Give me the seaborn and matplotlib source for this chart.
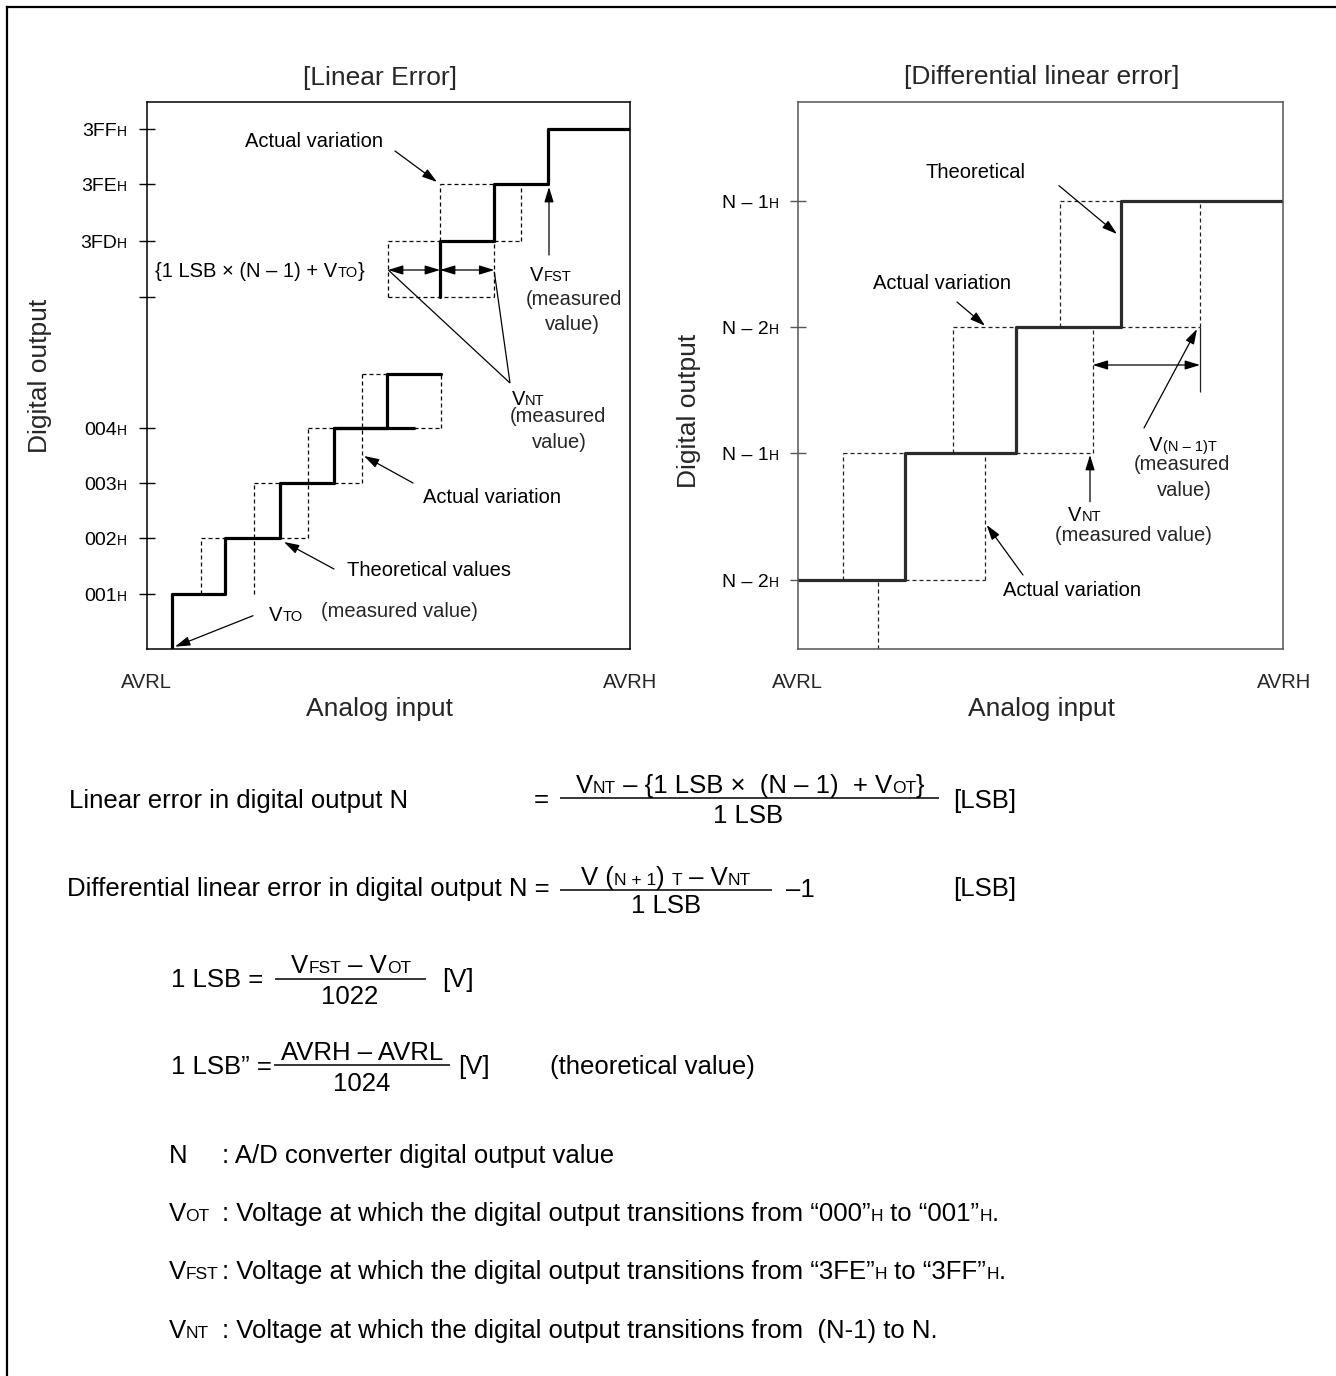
import matplotlib
matplotlib.use("Agg")
import matplotlib.pyplot as plt
import seaborn as sns
import pandas as pd

# ---------------------------------------------------------------------------
# Values (x = analog input, y = digital output level,
# both in the panels' own plot units)
# ---------------------------------------------------------------------------
# [Linear Error] panel - lower staircase (codes 000H .. 005H)
LIN_LEVELS_LO = [0.0, 55.3, 111.0, 166.6, 221.6, 275.3]
LIN_THEO_X_LO = [25.2, 78.5, 133.5, 187.8, 240.8, 294.2]     # transitions + end
LIN_EXT_004 = 267.8                                          # 004H tread drawn further
LIN_ACT_V_LO = [(54.2, 1, 2), (107.8, 1, 3), (161.2, 2, 4), (215.8, 3, 5), (294.2, 4, 5)]
LIN_ACT_H_LO = [(2, 54.2, 78.5), (3, 107.8, 133.5), (4, 161.2, 187.8), (5, 215.8, 240.8),
                (2, 133.5, 161.2), (3, 187.8, 215.8), (4, 267.8, 294.2)]
# [Linear Error] panel - upper staircase (codes 3FCH .. 3FFH)
LIN_LEVELS_HI = [352.0, 408.6, 465.6, 520.3]
LIN_THEO_X_HI = [293.5, 347.8, 401.8, 483.5]
LIN_ACT_V_HI = [(241.5, 0, 1), (347.8, 0, 1), (293.5, 1, 2), (374.2, 1, 2)]
LIN_ACT_H_HI = [(0, 241.5, 347.8), (1, 241.5, 293.5), (2, 293.5, 347.8), (1, 347.8, 374.2)]
LIN_SPAN_X = [241.5, 293.5, 347.8]
LIN_SPAN_Y = 379.3
LIN_TICKS = [55.3, 111.0, 166.6, 221.6, 352.0, 408.6, 465.6, 520.3]
LIN_TICK_LABELS = ['001', '002', '003', '004', '', '3FD', '3FE', '3FF']

# [Differential linear error] panel
DIF_LEVELS = [0.0, 69.3, 196.0, 322.0, 448.3]                # index 0 = bottom of the axes
DIF_THEO_X = [106.7, 217.4, 322.4, 485.0]
DIF_ACT_V = [(79.4, 0, 1), (45.0, 1, 2), (186.7, 1, 2), (154.4, 2, 3), (294.4, 2, 3),
             (261.7, 3, 4), (401.7, 3, 4)]
DIF_ACT_H = [(2, 45.0, 106.7), (1, 106.7, 186.7), (3, 154.4, 217.4), (2, 217.4, 294.4),
             (4, 261.7, 322.4), (3, 322.4, 401.7)]
DIF_SPAN_X = [294.4, 401.7]
DIF_SPAN_Y = 284.3
DIF_MEAS_LOW = 257.3
DIF_TICKS = [69.3, 196.0, 322.0, 448.3]
DIF_TICK_LABELS = ['N – 2', 'N – 1', 'N – 2', 'N – 1']

# ---------------------------------------------------------------------------
sns.set_theme(style="white")
plt.rcParams['font.family'] = ['Liberation Sans', 'DejaVu Sans']
plt.rcParams['axes.unicode_minus'] = False

W, H, DPI = 1336, 1376, 100
fig = plt.figure(figsize=(W / DPI, H / DPI), dpi=DPI, facecolor='white')


def box(x0, y0, x1, y1):
    return [x0 / W, 1 - y1 / H, (x1 - x0) / W, (y1 - y0) / H]


axL = fig.add_axes(box(146.5, 101.7, 630.0, 649.3))
axR = fig.add_axes(box(798.3, 101.7, 1283.3, 649.3))
ov = fig.add_axes([0, 0, 1, 1])
ov.set_xlim(0, W)
ov.set_ylim(H, 0)
ov.set_axis_off()
ov.patch.set_alpha(0)

DASH = (0, (3.2, 2.4))


def stair_frame(xs, levels, start=None, unit=0):
    px, py = [], []
    if start is not None:
        px.append(start[0]); py.append(start[1])
    for i in range(len(xs) - 1):
        px += [xs[i], xs[i], xs[i + 1]]
        py += [levels[i], levels[i + 1], levels[i + 1]]
    return pd.DataFrame({'x': px, 'y': py, 'u': unit})


def style_axes(ax, xmax, ymax, ticks, edge):
    ax.set_xlim(0, xmax)
    ax.set_ylim(0, ymax)
    ax.set_xlabel('')
    ax.set_ylabel('')
    ax.set_xticks([])
    ax.set_yticks(ticks)
    ax.set_yticklabels([])
    ax.tick_params(axis='y', direction='inout', length=11.5, width=1.0, color=edge, left=True)
    for s in ax.spines.values():
        s.set_color(edge)
        s.set_linewidth(1.1)
        s.set_visible(True)
    ax.set_facecolor('white')


# ---- Linear error panel
lo = stair_frame(LIN_THEO_X_LO, LIN_LEVELS_LO, unit=0)
hi = stair_frame(LIN_THEO_X_HI, LIN_LEVELS_HI, unit=1)
ext = pd.DataFrame({'x': [LIN_THEO_X_LO[3], LIN_EXT_004], 'y': [LIN_LEVELS_LO[4]] * 2, 'u': 2})
sns.lineplot(data=pd.concat([lo, hi, ext]), x='x', y='y', units='u', estimator=None, sort=False,
             color='black', lw=2.3, ax=axL, legend=False)
for x, a, b in LIN_ACT_V_LO:
    axL.vlines(x, LIN_LEVELS_LO[a], LIN_LEVELS_LO[b], colors='black', lw=0.9, linestyles=DASH)
for lv, a, b in LIN_ACT_H_LO:
    axL.hlines(LIN_LEVELS_LO[lv], a, b, colors='black', lw=0.9, linestyles=DASH)
for x, a, b in LIN_ACT_V_HI:
    axL.vlines(x, LIN_LEVELS_HI[a], LIN_LEVELS_HI[b], colors='black', lw=0.9, linestyles=DASH)
for lv, a, b in LIN_ACT_H_HI:
    axL.hlines(LIN_LEVELS_HI[lv], a, b, colors='black', lw=0.9, linestyles=DASH)
AP2 = dict(arrowstyle='<|-|>,head_length=0.65,head_width=0.2', mutation_scale=14, lw=0.9,
           color='black', shrinkA=0, shrinkB=0)
for a, b in zip(LIN_SPAN_X[:-1], LIN_SPAN_X[1:]):
    axL.annotate('', xy=(b, LIN_SPAN_Y), xytext=(a, LIN_SPAN_Y), arrowprops=AP2)
style_axes(axL, 483.5, 547.6, LIN_TICKS, 'black')

# ---- Differential linear error panel
RC = '#2b2b2b'
dif = stair_frame(DIF_THEO_X, DIF_LEVELS[1:], start=(0.0, DIF_LEVELS[1]), unit=0)
sns.lineplot(data=dif, x='x', y='y', units='u', estimator=None, sort=False,
             color=RC, lw=2.3, ax=axR, legend=False)
for x, a, b in DIF_ACT_V:
    axR.vlines(x, DIF_LEVELS[a], DIF_LEVELS[b], colors='#222222', lw=0.9, linestyles=DASH)
for lv, a, b in DIF_ACT_H:
    axR.hlines(DIF_LEVELS[lv], a, b, colors='#222222', lw=0.9, linestyles=DASH)
axR.vlines(DIF_SPAN_X[1], DIF_MEAS_LOW, DIF_LEVELS[3], colors='#222222', lw=0.9)
axR.annotate('', xy=(DIF_SPAN_X[1], DIF_SPAN_Y), xytext=(DIF_SPAN_X[0], DIF_SPAN_Y), arrowprops=AP2)
style_axes(axR, 485.0, 547.6, DIF_TICKS, '#555555')

# ---------------------------------------------------------------------------
# Text helpers (overlay coordinates = pixels, y downwards)
# ---------------------------------------------------------------------------
rend = fig.canvas.get_renderer()
_cache = {}


def measure(s, size):
    key = (s, size)
    if key not in _cache:
        t = ov.text(0, 0, '|' + s + '|', fontsize=size)
        w1 = t.get_window_extent(rend).width
        t.set_text('||')
        w2 = t.get_window_extent(rend).width
        t.remove()
        _cache[key] = w1 - w2
    return _cache[key]


def rich(x, y, parts, ha='left', color='black'):
    ws = [measure(s, sz) for s, sz in parts]
    tot = sum(ws)
    x0 = x if ha == 'left' else (x - tot / 2 if ha == 'center' else x - tot)
    for (s, sz), w in zip(parts, ws):
        ov.text(x0, y, s, fontsize=sz, ha='left', va='baseline', color=color)
        x0 += w


def arrow(p0, p1, both=False):
    st = '<|-|>' if both else '-|>'
    ov.annotate('', xy=p1, xytext=p0,
                arrowprops=dict(arrowstyle=st + ',head_length=0.65,head_width=0.2',
                                mutation_scale=14, lw=0.9, color='black',
                                shrinkA=0, shrinkB=0))


def line(p0, p1, color='black'):
    ov.plot([p0[0], p1[0]], [p0[1], p1[1]], color=color, lw=0.9, solid_capstyle='butt')


A, AS = 14.5, 10.5          # annotation text sizes
T = 19                      # titles / axis labels
TK, TKS = 14, 10            # tick labels
F, FS = 18.5, 12.5          # formula text

# outer frame (left + top)
ov.plot([7, 7], [H, 7], color='black', lw=1.6, clip_on=False, solid_capstyle='projecting')
ov.plot([7, W], [7, 7], color='black', lw=1.6, clip_on=False, solid_capstyle='projecting')

# titles and axis labels
ov.text(380, 85, '[Linear Error]', fontsize=T, ha='center', va='baseline')
ov.text(1042, 84, '[Differential linear error]', fontsize=T, ha='center', va='baseline')
ov.text(40, 376, 'Digital output', fontsize=T, rotation=90, ha='center', va='center')
ov.text(689, 411, 'Digital output', fontsize=T, rotation=90, ha='center', va='center')
ov.text(379, 716, 'Analog input', fontsize=T, ha='center', va='baseline')
ov.text(1042, 716, 'Analog input', fontsize=T, ha='center', va='baseline')
for x, s in [(146, 'AVRL'), (630, 'AVRH'), (797, 'AVRL'), (1284, 'AVRH')]:
    ov.text(x, 688, s, fontsize=A, ha='center', va='baseline')

# tick labels
for ax, ticks, labels, xl in [(axL, LIN_TICKS, LIN_TICK_LABELS, 127.0),
                              (axR, DIF_TICKS, DIF_TICK_LABELS, 779.0)]:
    for v, lab in zip(ticks, labels):
        if not lab:
            continue
        ydisp = ax.transData.transform((0, v))[1]
        ypx = H - ydisp
        rich(xl, ypx + 7, [(lab, TK), ('H', TKS)], ha='right')

# ---- annotations, linear error panel
rich(245, 147, [('Actual variation', A)])
arrow((395, 151), (437, 182))
rich(155, 277, [('{1 LSB × (N – 1) + V', A), ('TO', AS), ('}', A)])
rich(530, 281, [('V', A), ('FST', AS)])
ov.text(574, 305, '(measured', fontsize=A, ha='center', va='baseline')
ov.text(572, 330, 'value)', fontsize=A, ha='center', va='baseline')
arrow((549, 255), (549, 187))
line((388.3, 270), (510, 383))
line((494.3, 271.7), (510, 383))
rich(511.7, 405, [('V', A), ('NT', AS)])
ov.text(510, 422, '(measured', fontsize=A, ha='left', va='baseline')
ov.text(531.7, 448, 'value)', fontsize=A, ha='left', va='baseline')
rich(423, 503, [('Actual variation', A)])
arrow((413, 483), (364, 456))
rich(347, 576, [('Theoretical values', A)])
arrow((334, 569), (284, 542))
rich(269, 621, [('V', A), ('TO', AS)])
ov.text(320.7, 617, '(measured value)', fontsize=A, ha='left', va='baseline')
arrow((253, 615.7), (175, 646.7))

# ---- annotations, differential panel
rich(925, 178, [('Theoretical', A)])
arrow((1059, 185.7), (1117, 234))
rich(873, 289, [('Actual variation', A)])
arrow((957, 302), (985, 325.7))
rich(1149.3, 451, [('V', A), ('(N – 1)T', AS)])
ov.text(1134, 470, '(measured', fontsize=A, ha='left', va='baseline')
ov.text(1156.7, 496, 'value)', fontsize=A, ha='left', va='baseline')
arrow((1144, 428), (1197, 329))
rich(1068.3, 521, [('V', A), ('NT', AS)])
ov.text(1055, 541, '(measured value)', fontsize=A, ha='left', va='baseline')
arrow((1090, 501.7), (1090, 455))
rich(1003.3, 596, [('Actual variation', A)])
arrow((1023, 575), (986.7, 525))

# ---------------------------------------------------------------------------
# Formulas
# ---------------------------------------------------------------------------
def bar(x0, x1, y):
    ov.plot([x0, x1], [y, y], color='black', lw=1.1, solid_capstyle='butt')


# row 1
rich(68.7, 808, [('Linear error in digital output N', F)])
rich(534, 807, [('=', F)])
rich(750, 793, [('V', F), ('NT', FS), (' – {1 LSB ×  (N – 1)  + V', F), ('OT', FS), ('}', F)], ha='center')
bar(560, 939, 798.3)
rich(748, 823, [('1 LSB', F)], ha='center')
rich(953, 808, [('[LSB]', F)])

# row 2
rich(66.8, 896, [('Differential linear error in digital output N =', F)])
rich(666, 885, [('V (', F), ('N + 1', FS), (') ', F), ('T', FS), (' – V', F), ('NT', FS)], ha='center')
bar(560, 772, 889.5)
rich(666, 913, [('1 LSB', F)], ha='center')
rich(786, 897, [('–1', F)])
rich(953, 896, [('[LSB]', F)])

# row 3
rich(170.7, 987, [('1 LSB =', F)])
rich(351, 973, [('V', F), ('FST', FS), (' – V', F), ('OT', FS)], ha='center')
bar(275, 426, 978.5)
rich(350, 1004, [('1022', F)], ha='center')
rich(441.8, 987, [('[V]', F)])

# row 4
rich(170.7, 1074, [('1 LSB” =', F)])
rich(362, 1060, [('AVRH – AVRL', F)], ha='center')
bar(274, 450, 1065)
rich(362, 1091, [('1024', F)], ha='center')
rich(458, 1074, [('[V]', F)])
rich(550, 1074, [('(theoretical value)', F)])

# definitions
COLON_X = 222
defs = [
    (1163, [('N', F)], [(': A/D converter digital output value', F)]),
    (1221, [('V', F), ('OT', FS)],
     [(': Voltage at which the digital output transitions from “000”', F), ('H', FS),
      (' to “001”', F), ('H', FS), ('.', F)]),
    (1279, [('V', F), ('FST', FS)],
     [(': Voltage at which the digital output transitions from “3FE”', F), ('H', FS),
      (' to “3FF”', F), ('H', FS), ('.', F)]),
    (1338, [('V', F), ('NT', FS)],
     [(': Voltage at which the digital output transitions from  (N-1) to N.', F)]),
]
for y, lab, body in defs:
    rich(168.5, y, lab)
    rich(COLON_X, y, body)

fig.savefig('out.png', dpi=DPI, facecolor='white')
